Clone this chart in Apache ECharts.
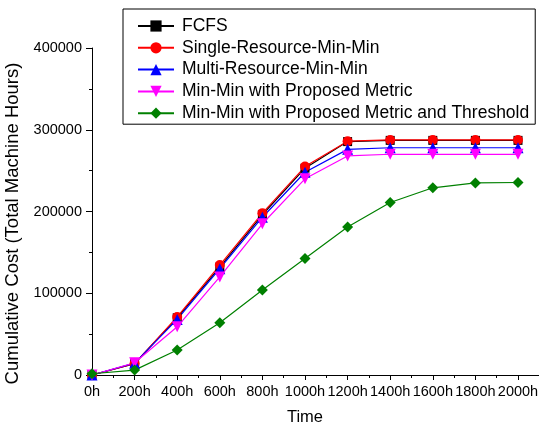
<!DOCTYPE html>
<html>
<head>
<meta charset="utf-8">
<script src="https://cdn.jsdelivr.net/npm/echarts@6/dist/echarts.min.js"></script>
<style>
  html, body { margin: 0; padding: 0; background: #ffffff; }
  #chart { width: 539px; height: 425px; }
</style>
</head>
<body>
<div id="chart"></div>
<script>
// Elapsed simulation time (hours) and cumulative cost per scheduling policy
const hours = [0, 200, 400, 600, 800, 1000, 1200, 1400, 1600, 1800, 2000];
const fcfs = [0, 14000, 70000, 132000, 196000, 253000, 285500, 287000, 287000, 287000, 287000];
const singleMinMin = [0, 14000, 71000, 134500, 198000, 255000, 286000, 287500, 287500, 287500, 287500];
const multiMinMin = [0, 14500, 68000, 130000, 193000, 248000, 276000, 278000, 278000, 278000, 278000];
const proposedMetric = [0, 15000, 59000, 120000, 185000, 240000, 268000, 270000, 270000, 270000, 270000];
const proposedThreshold = [1500, 6000, 30500, 64000, 104000, 142500, 181000, 211000, 229000, 235000, 235500];

const yTicks = [0, 100000, 200000, 300000, 400000];

const FONT = '"Liberation Sans", Arial, sans-serif';

const seriesDefs = [
  { name: 'FCFS', data: fcfs, color: '#000000', symbol: 'rect', size: 9 },
  { name: 'Single-Resource-Min-Min', data: singleMinMin, color: '#ff0000', symbol: 'circle', size: 10 },
  { name: 'Multi-Resource-Min-Min', data: multiMinMin, color: '#0000ff', symbol: 'triangle', size: 11 },
  { name: 'Min-Min with Proposed Metric', data: proposedMetric, color: '#ff00ff', symbol: 'path://M0,0 L10,0 L5,10 Z', size: 11 },
  { name: 'Min-Min with Proposed Metric and Threshold', data: proposedThreshold, color: '#008000', symbol: 'diamond', size: 11 }
];

const chart = echarts.init(document.getElementById('chart'), null, { renderer: 'canvas' });

chart.setOption({
  backgroundColor: '#ffffff',
  animation: false,
  textStyle: { fontFamily: FONT },
  grid: [
    { left: 92, right: 21, top: 48, bottom: 50, containLabel: false, outerBoundsMode: 'none' },
    { left: 92, right: 0, top: 48, bottom: 50, containLabel: false, outerBoundsMode: 'none' }
  ],
  legend: {
    orient: 'vertical',
    left: 123,
    top: 9,
    padding: [8, 6, 2, 14],
    borderColor: '#000000',
    borderWidth: 1,
    itemWidth: 36,
    itemHeight: 14,
    itemGap: 3.8,
    textStyle: { fontFamily: FONT, fontSize: 17.5, color: '#000000', padding: [0, 0, 0, 3] },
    data: seriesDefs.map(s => s.name)
  },
  xAxis: [
    {
      type: 'value',
      gridIndex: 0,
      min: hours[0],
      max: hours[hours.length - 1],
      interval: 200,
      name: 'Time',
      nameLocation: 'middle',
      nameGap: 34,
      nameTextStyle: { fontFamily: FONT, fontSize: 16.5, color: '#000000' },
      axisLine: { show: true, lineStyle: { color: '#000000', width: 1 } },
      axisTick: { show: true, inside: false, length: 5, lineStyle: { color: '#000000' } },
      minorTick: { show: true, splitNumber: 2, length: 3, lineStyle: { color: '#000000' } },
      axisLabel: {
        fontFamily: FONT, fontSize: 14.5, color: '#000000', margin: 9,
        formatter: v => v + 'h'
      },
      splitLine: { show: false }
    },
    {
      type: 'value',
      gridIndex: 1,
      min: 0,
      max: 1,
      axisLine: { show: true, lineStyle: { color: '#000000', width: 1 } },
      axisTick: { show: false },
      axisLabel: { show: false },
      splitLine: { show: false }
    }
  ],
  yAxis: [
    {
      type: 'value',
      gridIndex: 0,
      min: yTicks[0],
      max: yTicks[yTicks.length - 1],
      interval: 100000,
      name: 'Cumulative Cost (Total Machine Hours)',
      nameLocation: 'middle',
      nameGap: 59,
      nameTextStyle: { fontFamily: FONT, fontSize: 18.5, color: '#000000', padding: [0, 24, 0, 0] },
      axisLine: { show: true, lineStyle: { color: '#000000', width: 1 } },
      axisTick: { show: true, inside: false, length: 6, lineStyle: { color: '#000000' } },
      minorTick: { show: true, splitNumber: 2, length: 3, lineStyle: { color: '#000000' } },
      axisLabel: {
        fontFamily: FONT, fontSize: 14.5, color: '#000000', margin: 10,
        formatter: v => String(v)
      },
      splitLine: { show: false }
    },
    {
      type: 'value',
      gridIndex: 1,
      show: false,
      min: 0,
      max: 1
    }
  ],
  series: seriesDefs.map(s => ({
    name: s.name,
    type: 'line',
    xAxisIndex: 0,
    yAxisIndex: 0,
    data: hours.map((h, i) => [h, s.data[i]]),
    symbol: s.symbol,
    symbolSize: s.size,
    showAllSymbol: true,
    color: s.color,
    lineStyle: { color: s.color, width: 1.2 },
    itemStyle: { color: s.color, borderWidth: 0 },
    emphasis: { disabled: true }
  }))
});
</script>
</body>
</html>
